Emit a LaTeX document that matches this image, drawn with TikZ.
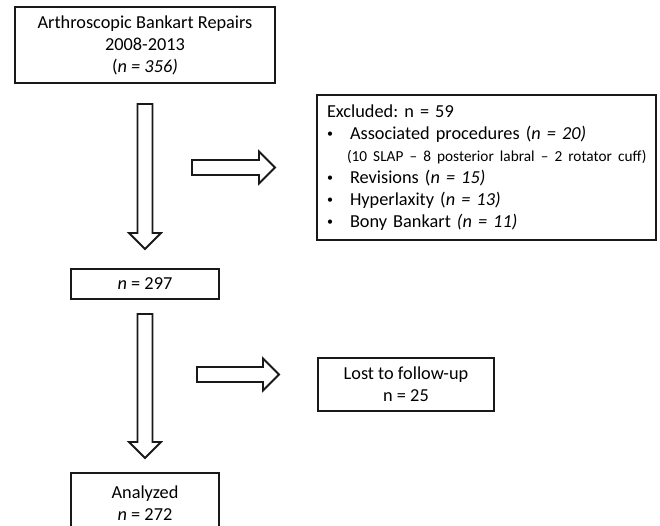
\documentclass[tikz,border=0pt]{standalone}
\usepackage{fontspec}
\setmainfont{Carlito}
\frenchspacing
\usetikzlibrary{calc}
\newcommand\dotitem{\hspace*{4pt}\makebox[23pt][l]{\raisebox{1.5pt}{\fontsize{12}{12}\selectfont\textbullet}}}
\tikzset{
  box/.style={draw=black!90, line width=2pt, align=center, inner sep=0pt,
    font=\fontsize{18.3}{22}\selectfont},
  fat/.style={draw=black!90, line width=1.8pt, line join=miter},
  pics/fatarrow/.style={code={
    \draw[fat] (0,-7.5) -- (#1-16,-7.5) -- (#1-16,-16) -- (#1,0)
      -- (#1-16,16) -- (#1-16,7.5) -- (0,7.5) -- cycle;}}
}
\begin{document}
\begin{tikzpicture}[x=1pt,y=-1pt]
\useasboundingbox (0,0) rectangle (660,525);
\clip (0,0) rectangle (660,525);
\node[box, minimum width=260pt, minimum height=76pt] (start) at (145,45)
  {Arthroscopic Bankart Repairs\\2008-2013\\(\textit{n = 356)}};
\node[box, minimum width=148pt, minimum height=30pt] (kept) at (145,284) {\textit{n} = 297};
\node[box, minimum width=148pt, minimum height=60pt] (final) at (145,503) {Analyzed\\\textit{n} = 272};
\node[box, align=left, text width=327pt, inner xsep=6pt, minimum height=145pt] (excl) at (486.5,167.5)
  {\hspace*{4pt}Excluded: n = 59\\
   \dotitem Associated procedures (\textit{n = 20)}\\
   \hspace*{24pt}\mbox{\fontsize{15.3}{22}\selectfont (10 SLAP – 8 posterior labral – 2 rotator cuff)}\\
   \dotitem Revisions (\textit{n = 15)}\\
   \dotitem Hyperlaxity (\textit{n = 13)}\\
   \dotitem Bony Bankart \textit{(n = 11)}};
\node[box, minimum width=176pt, minimum height=53pt] (lost) at (406,384.5) {Lost to follow-up\\n = 25};
\coordinate (down1) at ($(start.south)+(0,20)$);
\coordinate (down2) at ($(kept.south)+(0,14)$);
\coordinate (side1) at ($(excl.west)+(-124,0)$);
\coordinate (side2) at ($(lost.west)+(-120,-10)$);
\pic[rotate=-90] at (down1) {fatarrow=145};
\pic[rotate=-90] at (down2) {fatarrow=144};
\pic at (side1) {fatarrow=83};
\pic at (side2) {fatarrow=82};
\end{tikzpicture}
\end{document}
